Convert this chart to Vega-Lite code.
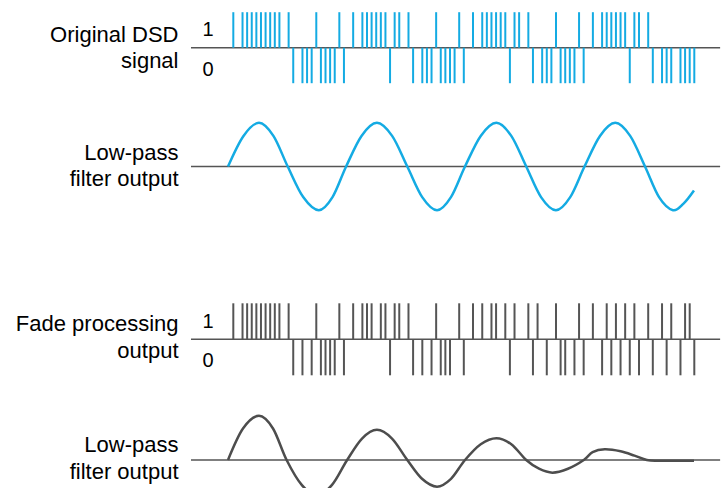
{
  "$schema": "https://vega.github.io/schema/vega-lite/v6.json",
  "padding": 0,
  "spacing": 0,
  "bounds": "flush",
  "background": "white",
  "config": {"view": {"stroke": null}, "concat": {"spacing": 0}},
  "datasets": {
    "dsd": [
      {"t":0,"pulse":1},{"t":2,"pulse":1},{"t":3,"pulse":1},{"t":4,"pulse":1},{"t":5,"pulse":1},{"t":6,"pulse":1},{"t":7,"pulse":1},{"t":8,"pulse":1},{"t":9,"pulse":1},{"t":10,"pulse":1},{"t":12,"pulse":1},{"t":18,"pulse":1},
      {"t":23,"pulse":1},{"t":26,"pulse":1},{"t":28,"pulse":1},{"t":29,"pulse":1},{"t":30,"pulse":1},{"t":31,"pulse":1},{"t":32,"pulse":1},{"t":33,"pulse":1},{"t":35,"pulse":1},{"t":36,"pulse":1},{"t":38,"pulse":1},{"t":44,"pulse":1},
      {"t":49,"pulse":1},{"t":52,"pulse":1},{"t":54,"pulse":1},{"t":55,"pulse":1},{"t":56,"pulse":1},{"t":57,"pulse":1},{"t":58,"pulse":1},{"t":59,"pulse":1},{"t":61,"pulse":1},{"t":62,"pulse":1},{"t":64,"pulse":1},{"t":70,"pulse":1},
      {"t":75,"pulse":1},{"t":78,"pulse":1},{"t":80,"pulse":1},{"t":81,"pulse":1},{"t":82,"pulse":1},{"t":83,"pulse":1},{"t":84,"pulse":1},{"t":85,"pulse":1},{"t":87,"pulse":1},{"t":88,"pulse":1},{"t":90,"pulse":1},
      {"t":13,"pulse":-1},{"t":15,"pulse":-1},{"t":16,"pulse":-1},{"t":17,"pulse":-1},{"t":19,"pulse":-1},{"t":20,"pulse":-1},{"t":21,"pulse":-1},{"t":22,"pulse":-1},{"t":24,"pulse":-1},{"t":34,"pulse":-1},
      {"t":39,"pulse":-1},{"t":41,"pulse":-1},{"t":42,"pulse":-1},{"t":43,"pulse":-1},{"t":45,"pulse":-1},{"t":46,"pulse":-1},{"t":47,"pulse":-1},{"t":48,"pulse":-1},{"t":50,"pulse":-1},{"t":60,"pulse":-1},
      {"t":65,"pulse":-1},{"t":67,"pulse":-1},{"t":68,"pulse":-1},{"t":69,"pulse":-1},{"t":71,"pulse":-1},{"t":72,"pulse":-1},{"t":73,"pulse":-1},{"t":74,"pulse":-1},{"t":76,"pulse":-1},{"t":86,"pulse":-1},
      {"t":91,"pulse":-1},{"t":93,"pulse":-1},{"t":94,"pulse":-1},{"t":95,"pulse":-1},{"t":97,"pulse":-1},{"t":98,"pulse":-1},{"t":99,"pulse":-1},{"t":100,"pulse":-1}
    ],
    "fade": [
      {"t":0,"pulse":1},{"t":2,"pulse":1},{"t":3,"pulse":1},{"t":4,"pulse":1},{"t":5,"pulse":1},{"t":6,"pulse":1},{"t":7,"pulse":1},{"t":8,"pulse":1},{"t":9,"pulse":1},{"t":10,"pulse":1},{"t":12,"pulse":1},{"t":18,"pulse":1},
      {"t":23,"pulse":1},{"t":26,"pulse":1},{"t":28,"pulse":1},{"t":29,"pulse":1},{"t":30,"pulse":1},{"t":32,"pulse":1},{"t":33,"pulse":1},{"t":35,"pulse":1},{"t":36,"pulse":1},{"t":38,"pulse":1},{"t":44,"pulse":1},
      {"t":49,"pulse":1},{"t":52,"pulse":1},{"t":54,"pulse":1},{"t":56,"pulse":1},{"t":57,"pulse":1},{"t":59,"pulse":1},{"t":61,"pulse":1},{"t":64,"pulse":1},{"t":66,"pulse":1},{"t":70,"pulse":1},
      {"t":75,"pulse":1},{"t":78,"pulse":1},{"t":81,"pulse":1},{"t":83,"pulse":1},{"t":85,"pulse":1},{"t":87,"pulse":1},{"t":90,"pulse":1},{"t":93,"pulse":1},{"t":95,"pulse":1},{"t":98,"pulse":1},{"t":99,"pulse":1},
      {"t":13,"pulse":-1},{"t":15,"pulse":-1},{"t":17,"pulse":-1},{"t":19,"pulse":-1},{"t":20,"pulse":-1},{"t":21,"pulse":-1},{"t":22,"pulse":-1},{"t":24,"pulse":-1},{"t":34,"pulse":-1},
      {"t":39,"pulse":-1},{"t":41,"pulse":-1},{"t":43,"pulse":-1},{"t":45,"pulse":-1},{"t":46,"pulse":-1},{"t":47,"pulse":-1},{"t":50,"pulse":-1},{"t":60,"pulse":-1},
      {"t":65,"pulse":-1},{"t":68,"pulse":-1},{"t":71,"pulse":-1},{"t":72,"pulse":-1},{"t":74,"pulse":-1},{"t":76,"pulse":-1},{"t":80,"pulse":-1},{"t":82,"pulse":-1},{"t":84,"pulse":-1},{"t":86,"pulse":-1},{"t":88,"pulse":-1},
      {"t":91,"pulse":-1},{"t":94,"pulse":-1},{"t":97,"pulse":-1},{"t":100,"pulse":-1}
    ],
    "lpf": [
      {"t":-1.15,"v":0},{"t":2.21,"v":0.7},{"t":5.57,"v":1},{"t":8.7,"v":0.7},{"t":11.8,"v":0},{"t":15.16,"v":-0.7},{"t":18.55,"v":-1},{"t":21.52,"v":-0.7},
      {"t":24.47,"v":0},{"t":27.81,"v":0.7},{"t":31.15,"v":1},{"t":34.45,"v":0.7},{"t":37.74,"v":0},{"t":40.98,"v":-0.7},{"t":44.19,"v":-1},{"t":47.22,"v":-0.7},
      {"t":50.26,"v":0},{"t":53.67,"v":0.7},{"t":57.07,"v":1},{"t":60.3,"v":0.7},{"t":63.54,"v":0},{"t":66.75,"v":-0.7},{"t":69.98,"v":-1},{"t":73.08,"v":-0.7},
      {"t":76.18,"v":0},{"t":79.54,"v":0.7},{"t":82.86,"v":1},{"t":86.09,"v":0.7},{"t":89.31,"v":0},{"t":92.35,"v":-0.7},{"t":95.38,"v":-1},{"t":97.66,"v":-0.85},{"t":99.93,"v":-0.55}
    ],
    "lpf_fade": [
      {"t":-1.15,"v":0},{"t":2.1,"v":0.72},{"t":5.57,"v":1.01},{"t":8.61,"v":0.72},{"t":11.56,"v":0},{"t":14.84,"v":-0.57},{"t":18.11,"v":-0.8},{"t":21.41,"v":-0.57},
      {"t":24.69,"v":0},{"t":27.92,"v":0.49},{"t":31.15,"v":0.69},{"t":34.43,"v":0.49},{"t":37.74,"v":0},{"t":40.93,"v":-0.43},{"t":44.19,"v":-0.61},{"t":47.22,"v":-0.43},
      {"t":50.26,"v":0},{"t":53.67,"v":0.36},{"t":57.07,"v":0.5},{"t":60.3,"v":0.36},{"t":63.54,"v":0},{"t":66.31,"v":-0.2},{"t":69.22,"v":-0.29},{"t":72.6,"v":-0.2},
      {"t":76.03,"v":0},{"t":77.94,"v":0.18},{"t":80.59,"v":0.245},{"t":84.01,"v":0.2},{"t":87.03,"v":0.1},{"t":89.7,"v":0},{"t":92.56,"v":-0.015},{"t":99.93,"v":-0.015}
    ]
  },
  "vconcat": [
    {
      "width": 728, "height": 100,
      "layer": [
        {"data": {"values": [{"k": 1}]}, "mark": {"type": "rule", "color": "#555555", "strokeWidth": 1.5},
         "encoding": {"x": {"datum": -9.18, "type": "quantitative", "scale": {"domain": [-50.61, 107.31], "nice": false, "zero": false}, "axis": null}, "x2": {"datum": 105.6},
                      "y": {"datum": 0, "type": "quantitative", "scale": {"domain": [-1.4732, 1.3437], "nice": false, "zero": false}, "axis": null}}},
        {"data": {"name": "dsd"}, "mark": {"type": "rule", "color": "#14ABE3", "strokeWidth": 2},
         "encoding": {"x": {"field": "t", "type": "quantitative"}, "y": {"field": "pulse", "type": "quantitative"}, "y2": {"datum": 0}}},
        {"data": {"values": [{"k": 1}]}, "mark": {"type": "text", "text": ["Original DSD", "signal"], "align": "right", "baseline": "alphabetic", "font": "Liberation Sans", "fontSize": 22, "lineHeight": 26.5, "color": "#000000"},
         "encoding": {"x": {"datum": -11.89, "type": "quantitative"}, "y": {"datum": 0.169, "type": "quantitative"}}},
        {"data": {"values": [{"k": 1}]}, "mark": {"type": "text", "text": "1", "align": "center", "baseline": "alphabetic", "font": "Liberation Sans", "fontSize": 20, "color": "#000000"},
         "encoding": {"x": {"datum": -5.49, "type": "quantitative"}, "y": {"datum": 0.33, "type": "quantitative"}}},
        {"data": {"values": [{"k": 1}]}, "mark": {"type": "text", "text": "0", "align": "center", "baseline": "alphabetic", "font": "Liberation Sans", "fontSize": 20, "color": "#000000"},
         "encoding": {"x": {"datum": -5.49, "type": "quantitative"}, "y": {"datum": -0.797, "type": "quantitative"}}}
      ]
    },
    {
      "width": 728, "height": 190,
      "layer": [
        {"data": {"values": [{"k": 1}]}, "mark": {"type": "rule", "color": "#555555", "strokeWidth": 1.5},
         "encoding": {"x": {"datum": -9.18, "type": "quantitative", "scale": {"domain": [-50.61, 107.31], "nice": false, "zero": false}, "axis": null}, "x2": {"datum": 105.6},
                      "y": {"datum": 0, "type": "quantitative", "scale": {"domain": [-2.826, 1.5217], "nice": false, "zero": false}, "axis": null}}},
        {"data": {"name": "lpf"}, "mark": {"type": "line", "interpolate": "cardinal", "color": "#14ABE3", "strokeWidth": 2.5, "clip": true},
         "encoding": {"x": {"field": "t", "type": "quantitative"}, "y": {"field": "v", "type": "quantitative"}}},
        {"data": {"values": [{"k": 1}]}, "mark": {"type": "text", "text": ["Low-pass", "filter output"], "align": "right", "baseline": "alphabetic", "font": "Liberation Sans", "fontSize": 22, "lineHeight": 26.5, "color": "#000000"},
         "encoding": {"x": {"datum": -11.89, "type": "quantitative"}, "y": {"datum": 0.149, "type": "quantitative"}}}
      ]
    },
    {
      "width": 728, "height": 100,
      "layer": [
        {"data": {"values": [{"k": 1}]}, "mark": {"type": "rule", "color": "#555555", "strokeWidth": 1.5},
         "encoding": {"x": {"datum": -9.18, "type": "quantitative", "scale": {"domain": [-50.61, 107.31], "nice": false, "zero": false}, "axis": null}, "x2": {"datum": 105.6},
                      "y": {"datum": 0, "type": "quantitative", "scale": {"domain": [-1.4083, 1.3694], "nice": false, "zero": false}, "axis": null}}},
        {"data": {"name": "fade"}, "mark": {"type": "rule", "color": "#555555", "strokeWidth": 2},
         "encoding": {"x": {"field": "t", "type": "quantitative"}, "y": {"field": "pulse", "type": "quantitative"}, "y2": {"datum": 0}}},
        {"data": {"values": [{"k": 1}]}, "mark": {"type": "text", "text": ["Fade processing", "output"], "align": "right", "baseline": "alphabetic", "font": "Liberation Sans", "fontSize": 22, "lineHeight": 27.5, "color": "#000000"},
         "encoding": {"x": {"datum": -11.89, "type": "quantitative"}, "y": {"datum": 0.239, "type": "quantitative"}}},
        {"data": {"values": [{"k": 1}]}, "mark": {"type": "text", "text": "1", "align": "center", "baseline": "alphabetic", "font": "Liberation Sans", "fontSize": 20, "color": "#000000"},
         "encoding": {"x": {"datum": -5.49, "type": "quantitative"}, "y": {"datum": 0.3, "type": "quantitative"}}},
        {"data": {"values": [{"k": 1}]}, "mark": {"type": "text", "text": "0", "align": "center", "baseline": "alphabetic", "font": "Liberation Sans", "fontSize": 20, "color": "#000000"},
         "encoding": {"x": {"datum": -5.49, "type": "quantitative"}, "y": {"datum": -0.756, "type": "quantitative"}}}
      ]
    },
    {
      "width": 728, "height": 98,
      "layer": [
        {"data": {"values": [{"k": 1}]}, "mark": {"type": "rule", "color": "#555555", "strokeWidth": 1.5},
         "encoding": {"x": {"datum": -9.18, "type": "quantitative", "scale": {"domain": [-50.61, 107.31], "nice": false, "zero": false}, "axis": null}, "x2": {"datum": 105.6},
                      "y": {"datum": 0, "type": "quantitative", "scale": {"domain": [-0.6407, 1.6018], "nice": false, "zero": false}, "axis": null}}},
        {"data": {"name": "lpf_fade"}, "mark": {"type": "line", "interpolate": "cardinal", "color": "#4d4d4d", "strokeWidth": 2.5, "clip": true},
         "encoding": {"x": {"field": "t", "type": "quantitative"}, "y": {"field": "v", "type": "quantitative"}}},
        {"data": {"values": [{"k": 1}]}, "mark": {"type": "text", "text": ["Low-pass", "filter output"], "align": "right", "baseline": "alphabetic", "font": "Liberation Sans", "fontSize": 22, "lineHeight": 26.5, "color": "#000000"},
         "encoding": {"x": {"datum": -11.89, "type": "quantitative"}, "y": {"datum": 0.176, "type": "quantitative"}}}
      ]
    }
  ]
}
